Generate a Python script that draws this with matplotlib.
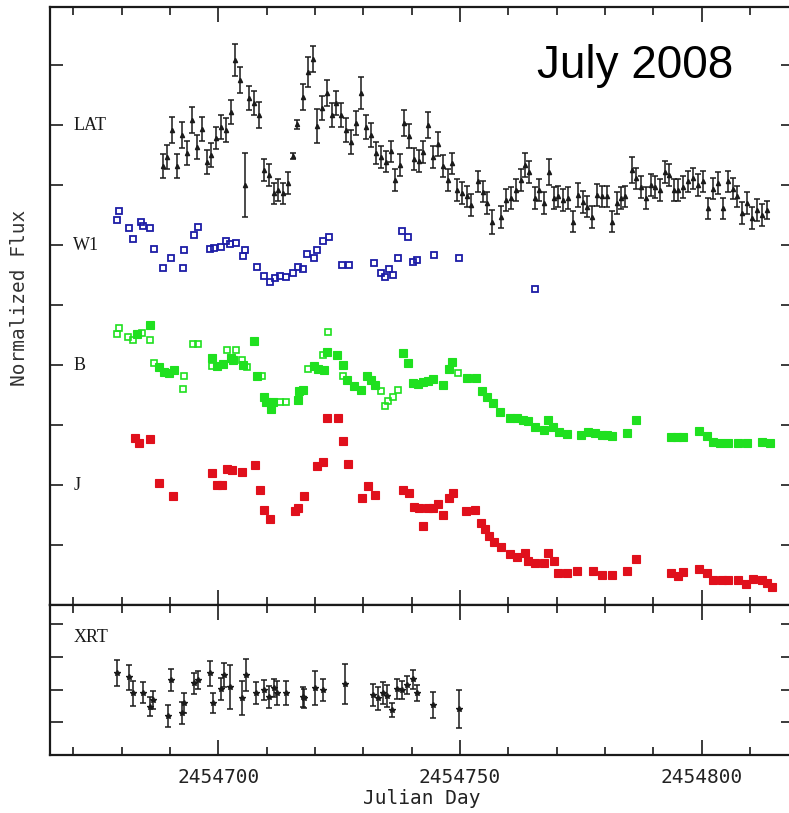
"""Multi-band light curves of a blazar flare, July 2008 (LAT, W1, B, J, XRT)."""
import numpy as np
import matplotlib

matplotlib.use("Agg")
import matplotlib.pyplot as plt
from matplotlib.ticker import MultipleLocator, FormatStrFormatter

T0 = 2454700  # all times below are days relative to this Julian Day

# ---- LAT (gamma rays), offset to y ~ 8 ----
lat_t = [-11.50, -10.55, -9.52, -8.61, -7.51, -6.54, -5.44, -4.47, -3.43, -2.40,
         -1.57, -0.54, 0.50, 1.53, 2.57, 3.45, 4.49, 5.52, 6.41, 7.39,
         8.48, 9.45, 10.49, 11.52, 12.41, 13.45, 14.48, 15.39, 16.34, 17.46,
         18.49, 19.53, 20.36, 21.39, 22.42, 23.46, 24.35, 25.38, 26.42, 27.45,
         28.49, 29.52, 30.55, 31.53, 32.56, 33.60, 34.63, 35.66, 36.55, 37.59,
         38.48, 39.45, 40.48, 41.52, 42.45, 43.48, 44.48, 45.45, 46.42, 47.46,
         48.45, 49.32, 50.35, 51.39, 52.21, 53.79, 54.70, 55.65, 56.56, 58.42,
         59.52, 60.49, 61.52, 62.56, 63.45, 64.34, 65.52, 66.41, 67.38, 68.47,
         69.45, 70.34, 71.37, 72.40, 73.31, 74.47, 75.38, 76.33, 77.24, 78.40,
         79.31, 80.35, 81.38, 82.42, 83.24, 84.13, 85.52, 86.41, 87.38, 88.42,
         89.45, 90.34, 91.37, 92.41, 93.30, 94.27, 95.16, 96.19, 97.23, 98.26,
         99.30, 100.33, 101.36, 102.40, 103.43, 104.34, 105.50, 106.41, 107.36, 108.27,
         109.31, 110.34, 111.38, 112.41, 113.45]
lat_y = [7.31, 7.47, 7.92, 7.31, 7.83, 7.53, 8.08, 7.64, 7.94, 7.39,
         7.50, 7.78, 7.97, 7.92, 8.22, 9.08, 8.75, 7.00, 8.45, 8.36,
         8.17, 7.25, 7.17, 6.86, 6.92, 6.86, 7.03, 7.48, 8.01, 8.47,
         8.89, 9.10, 7.98, 8.28, 8.53, 8.17, 8.36, 8.17, 7.92, 7.72,
         8.03, 8.53, 7.97, 7.83, 7.53, 7.47, 7.39, 7.56, 7.08, 7.33,
         8.03, 7.82, 7.43, 7.40, 7.55, 8.00, 7.47, 7.68, 7.32, 7.08,
         7.36, 6.92, 6.87, 6.81, 6.67, 7.06, 6.89, 6.70, 6.39, 6.47,
         6.75, 6.78, 6.92, 7.08, 7.33, 7.22, 6.78, 6.92, 6.70, 7.22,
         6.78, 6.81, 6.75, 6.78, 6.39, 6.83, 6.72, 6.64, 6.47, 6.83,
         6.81, 6.81, 6.39, 6.70, 6.78, 6.81, 7.25, 7.11, 6.97, 6.78,
         7.00, 6.97, 6.92, 7.22, 7.17, 6.92, 6.92, 6.97, 7.06, 7.11,
         7.00, 7.06, 6.61, 6.94, 7.03, 6.61, 7.06, 6.94, 6.81, 6.53,
         6.70, 6.45, 6.58, 6.50, 6.58]
lat_err = [0.20, 0.20, 0.22, 0.20, 0.22, 0.20, 0.22, 0.20, 0.20, 0.20,
           0.20, 0.18, 0.20, 0.20, 0.20, 0.27, 0.22, 0.53, 0.20, 0.20,
           0.22, 0.18, 0.18, 0.18, 0.18, 0.18, 0.18, 0.05, 0.08, 0.22,
           0.25, 0.22, 0.28, 0.20, 0.22, 0.20, 0.20, 0.20, 0.20, 0.20,
           0.20, 0.27, 0.20, 0.20, 0.18, 0.18, 0.18, 0.18, 0.18, 0.18,
           0.22, 0.20, 0.18, 0.18, 0.18, 0.22, 0.18, 0.20, 0.18, 0.18,
           0.18, 0.18, 0.18, 0.18, 0.18, 0.18, 0.18, 0.18, 0.20, 0.18,
           0.18, 0.18, 0.18, 0.18, 0.20, 0.18, 0.18, 0.18, 0.18, 0.22,
           0.18, 0.18, 0.18, 0.18, 0.18, 0.20, 0.18, 0.18, 0.18, 0.18,
           0.18, 0.18, 0.18, 0.18, 0.18, 0.18, 0.22, 0.18, 0.18, 0.18,
           0.18, 0.18, 0.18, 0.18, 0.18, 0.18, 0.18, 0.18, 0.18, 0.18,
           0.18, 0.18, 0.18, 0.18, 0.18, 0.18, 0.18, 0.18, 0.18, 0.18,
           0.18, 0.18, 0.18, 0.18, 0.15]

# ---- Swift UVOT W1 ----
w1_t = [-20.48, -20.89, -18.47, -17.71, -16.05, -15.51, -14.13, -13.30, -11.38, -9.78,
        -7.36, -7.03, -5.03, -4.26, -1.72, -0.89, 0.50, 1.53, 2.42, 3.60,
        5.05, 5.52, 7.94, 9.45, 10.70, 11.73, 12.76, 13.94, 15.39, 16.43,
        17.46, 18.41, 19.80, 20.48, 21.72, 22.90, 25.53, 27.10, 32.27, 33.66,
        34.48, 35.31, 36.08, 37.11, 38.06, 39.18, 40.22, 41.17, 44.68, 49.79, 65.51]
w1_y = [6.57, 6.42, 6.29, 6.10, 6.39, 6.32, 6.29, 5.94, 5.62, 5.78,
        5.62, 5.91, 6.17, 6.30, 5.93, 5.95, 5.97, 6.07, 6.01, 6.04,
        5.82, 5.92, 5.63, 5.48, 5.39, 5.45, 5.48, 5.46, 5.53, 5.64,
        5.60, 5.85, 5.78, 5.92, 6.07, 6.14, 5.66, 5.66, 5.70, 5.54,
        5.47, 5.60, 5.50, 5.79, 6.23, 6.13, 5.72, 5.75, 5.83, 5.78, 5.26]

# ---- B band: open squares (UVOT) and filled squares (ground) ----
bo_t = [-20.48, -20.89, -18.62, -17.58, -15.72, -14.13, -13.30, -7.10, -7.36, -5.17,
        -4.14, -1.37, 1.74, 3.60, 4.84, 5.88, 8.98, 12.76, 13.94, 18.62,
        21.72, 22.63, 25.73, 33.66, 34.48, 35.17, 36.08, 37.11, 49.65]
bo_y = [4.62, 4.51, 4.46, 4.42, 4.54, 4.42, 4.04, 3.82, 3.60, 4.35,
        4.35, 3.98, 4.25, 4.25, 4.08, 3.97, 3.82, 3.39, 3.39, 3.93,
        4.17, 4.55, 3.82, 3.56, 3.31, 3.40, 3.46, 3.58, 3.86]
bf_t = [-16.76, -14.13, -12.27, -11.23, -10.20, -9.16, -1.37, -0.33, 1.03, 2.57,
        3.10, 5.05, 7.45, 8.07, 9.45, 9.87, 10.84, 11.38, 16.55, 16.76,
        17.58, 19.80, 20.69, 21.87, 22.42, 24.49, 25.73, 26.69, 28.07, 29.46,
        30.70, 31.59, 32.42, 38.27, 39.35, 40.28, 41.31, 42.41, 43.44, 44.48,
        46.42, 47.68, 48.39, 51.39, 53.31, 54.49, 55.65, 56.89, 58.27, 60.34,
        61.73, 63.09, 64.13, 65.51, 67.38, 68.27, 69.30, 70.54, 72.20, 75.03,
        76.54, 77.93, 79.31, 80.47, 81.38, 84.48, 86.41, 93.59, 94.95, 96.19,
        99.50, 101.03, 102.40, 103.78, 105.50, 107.57, 109.31, 112.41, 114.13]
bf_y = [4.51, 4.67, 3.97, 3.89, 3.87, 3.91, 4.11, 3.98, 4.02, 4.11,
        4.08, 4.00, 4.40, 3.82, 3.47, 3.39, 3.26, 3.39, 3.42, 3.56,
        3.58, 3.98, 3.93, 3.91, 4.22, 4.17, 4.00, 3.75, 3.65, 3.58,
        3.82, 3.75, 3.67, 4.20, 4.04, 3.70, 3.69, 3.72, 3.73, 3.77,
        3.66, 3.93, 4.05, 3.78, 3.78, 3.56, 3.47, 3.36, 3.22, 3.11,
        3.11, 3.08, 3.06, 2.96, 2.92, 3.08, 2.97, 2.89, 2.85, 2.83,
        2.89, 2.86, 2.83, 2.83, 2.81, 2.87, 3.08, 2.80, 2.80, 2.80,
        2.90, 2.81, 2.71, 2.70, 2.70, 2.70, 2.70, 2.72, 2.70]

# ---- J band ----
j_t = [-17.23, -16.34, -14.13, -12.21, -9.31, -1.37, -0.33, 0.83, 1.74, 2.77,
       4.84, 7.59, 8.63, 9.45, 10.70, 15.87, 16.55, 17.79, 20.48, 21.72,
       22.55, 24.70, 25.73, 26.89, 29.66, 31.03, 32.42, 38.27, 39.45, 40.55,
       41.58, 42.41, 43.44, 44.35, 45.39, 46.42, 47.79, 48.61, 51.24, 53.10,
       54.34, 55.17, 56.06, 57.03, 58.42, 60.34, 61.73, 63.45, 64.13, 65.51,
       67.38, 68.27, 69.45, 70.34, 72.07, 74.14, 77.45, 79.31, 81.38, 84.48,
       86.41, 93.59, 95.16, 96.19, 99.50, 101.03, 102.40, 104.14, 105.50, 107.57,
       109.17, 110.55, 112.41, 113.45, 114.48]
j_y = [2.78, 2.70, 2.76, 2.04, 1.81, 2.20, 2.00, 2.00, 2.27, 2.25,
       2.22, 2.33, 1.92, 1.58, 1.43, 1.56, 1.62, 1.81, 2.32, 2.38,
       3.11, 3.11, 2.73, 2.35, 1.78, 1.98, 1.83, 1.92, 1.87, 1.64,
       1.61, 1.31, 1.62, 1.61, 1.68, 1.50, 1.78, 1.87, 1.56, 1.58,
       1.37, 1.27, 1.15, 1.05, 0.96, 0.85, 0.80, 0.86, 0.73, 0.70,
       0.70, 0.87, 0.74, 0.54, 0.54, 0.57, 0.57, 0.50, 0.50, 0.57,
       0.76, 0.53, 0.48, 0.55, 0.60, 0.53, 0.42, 0.42, 0.42, 0.41,
       0.35, 0.43, 0.42, 0.36, 0.30]

# ---- XRT (X-rays), lower panel ----
xrt_t = [-21.02, -18.41, -17.71, -15.64, -14.13, -13.45, -10.47, -9.78, -7.57, -7.03,
         -5.03, -4.14, -1.72, -1.03, 0.50, 1.24, 2.42, 4.84, 5.73, 7.80,
         9.52, 10.55, 11.52, 12.08, 14.01, 17.46, 17.79, 20.00, 21.60, 26.21,
         32.06, 33.10, 34.13, 34.84, 35.87, 36.91, 37.94, 38.97, 40.22, 41.17,
         44.48, 49.86]
xrt_y = [2.50, 2.38, 1.89, 1.91, 1.48, 1.68, 1.20, 2.29, 1.28, 1.58,
         2.19, 2.29, 2.50, 1.58, 2.01, 2.45, 2.09, 1.73, 2.45, 1.89,
         1.99, 1.78, 2.04, 1.89, 1.89, 1.78, 1.73, 2.04, 1.99, 2.16,
         1.83, 1.73, 1.89, 1.80, 1.38, 2.01, 1.99, 2.14, 2.31, 1.89,
         1.53, 1.41]
xrt_err = [0.40, 0.38, 0.38, 0.31, 0.28, 0.28, 0.34, 0.34, 0.34, 0.31,
           0.31, 0.28, 0.38, 0.31, 0.34, 0.37, 0.67, 0.52, 0.49, 0.34,
           0.31, 0.34, 0.28, 0.37, 0.37, 0.31, 0.28, 0.52, 0.34, 0.61,
           0.34, 0.34, 0.34, 0.34, 0.22, 0.31, 0.28, 0.28, 0.28, 0.25,
           0.40, 0.58]

band_labels = ["LAT", "W1", "B", "J"]
band_levels = [8, 6, 4, 2]

BLUE = "#1c1ca6"
GREEN = "#1fe01f"
RED = "#e0101c"
INK = "#1a1a1a"
MONO = "DejaVu Sans Mono"
SERIF = "Liberation Serif"

W, H = 789, 813
fig = plt.figure(figsize=(W / 100, H / 100), dpi=100)
# right spine sits just past the picture's edge, as in the original crop
ax = fig.add_axes([50 / W, 1 - 605 / H, 743 / W, 598 / H])
axx = fig.add_axes([50 / W, 1 - 755 / H, 743 / W, 150 / H], sharex=ax)


def jd(t):
    return T0 + np.asarray(t)


# upper panel
ax.errorbar(jd(lat_t), lat_y, yerr=lat_err, fmt="^", ms=3, color=INK,
            ecolor=INK, elinewidth=1.1, capsize=2.5, capthick=1.1)
ax.plot(jd(w1_t), w1_y, "s", ms=5, mfc="none", mec=BLUE, mew=1.3)
ax.plot(jd(bo_t), bo_y, "s", ms=5, mfc="none", mec=GREEN, mew=1.2)
ax.plot(jd(bf_t), bf_y, "s", ms=5.5, mfc=GREEN, mec=GREEN, mew=0.8)
ax.plot(jd(j_t), j_y, "s", ms=6, mfc=RED, mec=RED, mew=0.8)

label_x = T0 - 30.0
for name, lev in zip(band_labels, band_levels):
    ax.text(label_x, lev, name, family=SERIF, fontsize=13, color=INK,
            ha="left", va="center")

# lower panel
axx.errorbar(jd(xrt_t), xrt_y, yerr=xrt_err, fmt="*", ms=4, color=INK,
             ecolor=INK, elinewidth=1.1, capsize=2.5, capthick=1.1)
axx.text(label_x, 3.58, "XRT", family=SERIF, fontsize=13, color=INK,
         ha="left", va="center")

ax.set_xlim(T0 - 34.82, T0 + 118.9)
ax.set_ylim(0, 9.967)
axx.set_ylim(0, 4.587)

for a in (ax, axx):
    a.xaxis.set_major_locator(MultipleLocator(50))
    a.xaxis.set_minor_locator(MultipleLocator(10))
    a.tick_params(which="both", direction="in", top=True, right=True,
                  width=1.2, color=INK, labelleft=False)
    a.tick_params(axis="x", which="major", length=11)
    a.tick_params(axis="x", which="minor", length=6)
    a.tick_params(axis="y", which="major", length=9)
    for sp in a.spines.values():
        sp.set_linewidth(1.6)
        sp.set_color(INK)

# ticks at y=0 and the top edge would sit on the spines
ax.set_yticks(range(1, 10))
axx.set_yticks(range(1, 5))
ax.tick_params(labelbottom=False)
axx.xaxis.set_major_formatter(FormatStrFormatter("%d"))
axx.tick_params(axis="x", labelsize=14, pad=9, labelcolor="#222222")
for lbl in axx.get_xticklabels():
    lbl.set_family(MONO)

axx.set_xlabel("Julian Day", family=MONO, fontsize=14, color="#222222",
               labelpad=2)
fig.text(20 / W, 1 - 298 / H, "Normalized Flux", family=MONO, fontsize=14,
         color="#333333", rotation=90, ha="center", va="center")
fig.text(537 / W, 1 - 66 / H, "July 2008", family="Liberation Sans",
         fontsize=33, color="black", ha="left", va="center")

fig.savefig("out.png", dpi=100)
